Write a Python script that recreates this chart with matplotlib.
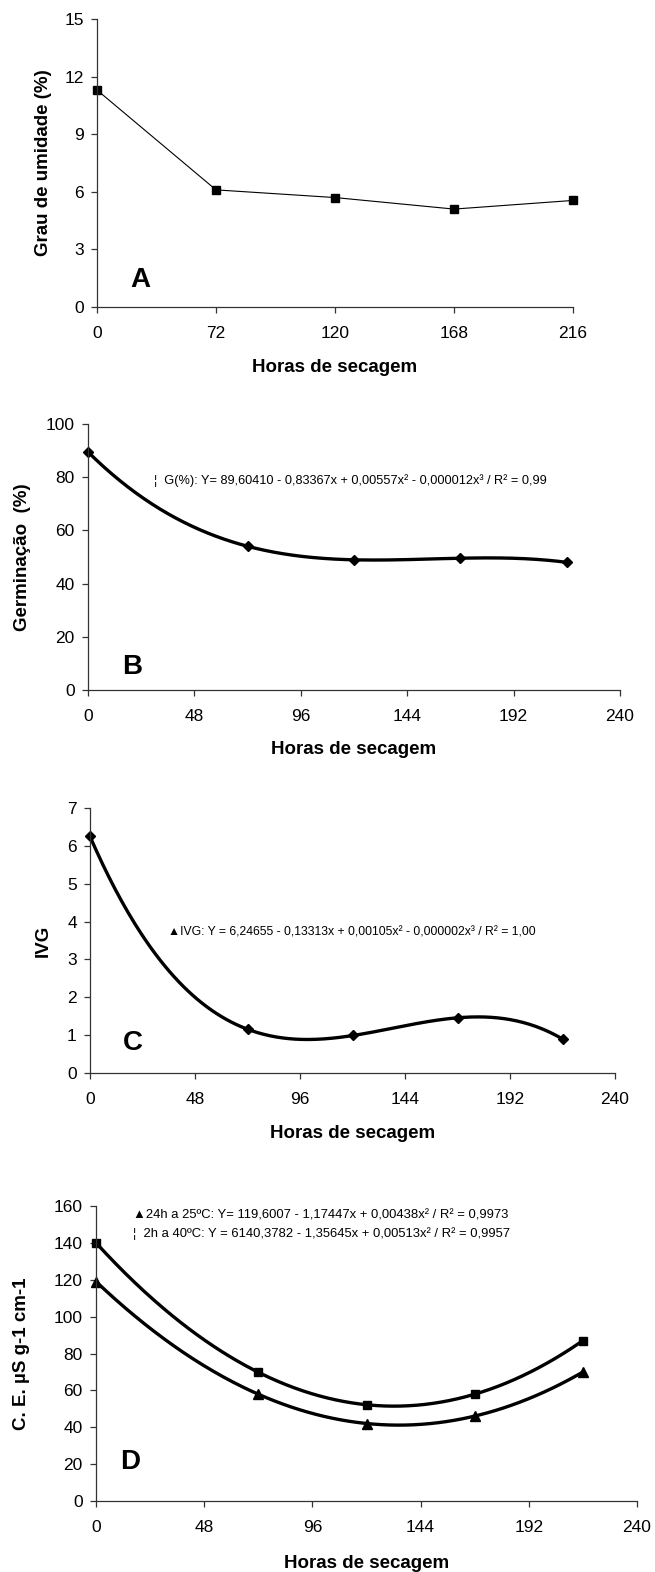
import numpy as np
import matplotlib as mpl
mpl.use('Agg')
import matplotlib.pyplot as plt

W, H = 655, 1572

# A: grau de umidade (categorical x)
horasA = ['0', '72', '120', '168', '216']
grau = [11.3, 6.1, 5.7, 5.1, 5.55]

# B, C, D
horas = np.array([0, 72, 120, 168, 216])
germ = [89.5, 54.0, 49.0, 49.5, 48.0]
ivg = [6.25, 1.15, 1.00, 1.45, 0.90]
ce_24h25 = [119, 58, 42, 46, 70]
ce_2h40 = [140, 70, 52, 58, 87]

eqB = '¦  G(%): Y= 89,60410 - 0,83367x + 0,00557x² - 0,000012x³ / R² = 0,99'
eqC = '▲IVG: Y = 6,24655 - 0,13313x + 0,00105x² - 0,000002x³ / R² = 1,00'
eqD1 = '▲24h a 25ºC: Y= 119,6007 - 1,17447x + 0,00438x² / R² = 0,9973'
eqD2 = '¦  2h a 40ºC: Y = 6140,3782 - 1,35645x + 0,00513x² / R² = 0,9957'

xlab = 'Horas de secagem'
FAM = ['Liberation Sans', 'DejaVu Sans']
plt.rcParams['font.family'] = FAM
AXC = '#333333'


def axes_px(fig, l, r, t, b):
    return fig.add_axes([l/W, 1-b/H, (r-l)/W, (b-t)/H])


def setup(ax, box, ylim, yticks, xlim, xticks, ylabel, ylab_x, xlab_off=60):
    l, r, t, b = box
    ax.set_xlim(*xlim)
    ax.set_ylim(*ylim)
    ax.set_yticks(yticks)
    ax.set_xticks(xticks)
    for s in ['top', 'right']:
        ax.spines[s].set_visible(False)
    for s in ['left', 'bottom']:
        ax.spines[s].set_color(AXC)
        ax.spines[s].set_linewidth(0.9)
    ax.tick_params(direction='out', length=4.5, width=0.9, color=AXC,
                   labelsize=12.5)
    ax.tick_params(axis='x', pad=9)
    ax.tick_params(axis='y', pad=5)
    ax.set_xlabel(xlab, fontsize=13.5, fontweight='bold', va='center')
    ax.xaxis.set_label_coords(0.5, -xlab_off/(b-t))
    ax.set_ylabel(ylabel, fontsize=13.5, fontweight='bold', va='center')
    ax.yaxis.set_label_coords(-(l-ylab_x)/(r-l), 0.5)


def trend(ax, x, y, deg):
    c = np.polyfit(x, y, deg)
    xs = np.linspace(x[0], x[-1], 300)
    ax.plot(xs, np.polyval(c, xs), color='k', lw=2.4, clip_on=False)


def main():
    fig = plt.figure(figsize=(W/100, H/100), dpi=100)

    # ---- A
    box = (97, 573, 19, 307)
    ax = axes_px(fig, *box)
    xa = np.arange(len(horasA))
    ax.plot(xa, grau, color='k', lw=0.8, marker='s', ms=5.5, clip_on=False)
    setup(ax, box, (0, 15), np.arange(0, 16, 3), (0, 4), xa,
          'Grau de umidade (%)', 43)
    ax.set_xticklabels(horasA)
    ax.text(0.36, 1.4, 'A', fontsize=20, fontweight='bold', ha='center', va='center')

    # ---- B
    box = (88, 620, 424, 690)
    ax = axes_px(fig, *box)
    trend(ax, horas, germ, 3)
    ax.plot(horas, germ, ls='none', marker='D', ms=5, color='k', clip_on=False)
    setup(ax, box, (0, 100), np.arange(0, 101, 20), (0, 240), np.arange(0, 241, 48),
          'Germinação  (%)', 23)
    ax.text(29.8, 78.8, eqB, fontsize=9.2, ha='left', va='center')
    ax.text(19.8, 8.6, 'B', fontsize=20, fontweight='bold', ha='center', va='center')

    # ---- C
    box = (90, 615, 808, 1073)
    ax = axes_px(fig, *box)
    trend(ax, horas, ivg, 3)
    ax.plot(horas, ivg, ls='none', marker='D', ms=5, color='k', clip_on=False)
    setup(ax, box, (0, 7), np.arange(0, 8, 1), (0, 240), np.arange(0, 241, 48),
          'IVG', 43)
    ax.text(35.7, 3.72, eqC, fontsize=8.8, ha='left', va='center')
    ax.text(19.7, 0.8, 'C', fontsize=20, fontweight='bold', ha='center', va='center')

    # ---- D
    box = (96, 637, 1206, 1501)
    ax = axes_px(fig, *box)
    trend(ax, horas, ce_2h40, 2)
    trend(ax, horas, ce_24h25, 2)
    ax.plot(horas, ce_2h40, ls='none', marker='s', ms=6, color='k', clip_on=False)
    ax.plot(horas, ce_24h25, ls='none', marker='^', ms=7, color='k', clip_on=False)
    setup(ax, box, (0, 160), np.arange(0, 161, 20), (0, 240), np.arange(0, 241, 48),
          'C. E. µS g-1 cm-1', 22, xlab_off=62)
    ax.text(16.4, 155.1, eqD1, fontsize=9.4, ha='left', va='center')
    ax.text(16.4, 145.3, eqD2, fontsize=9.4, ha='left', va='center')
    ax.text(15, 21.1, 'D', fontsize=20, fontweight='bold', ha='center', va='center')

    fig.savefig('out.png', dpi=100)
    plt.close()


if __name__ == "__main__":
    main()
